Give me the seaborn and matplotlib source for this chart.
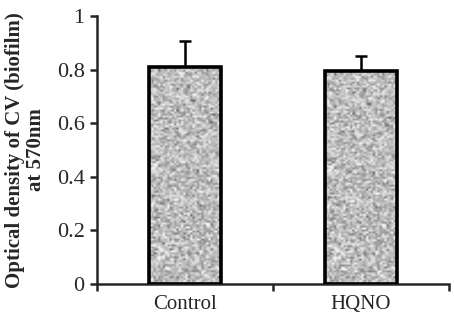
import numpy as np
import pandas as pd
import matplotlib
matplotlib.use("Agg")
import matplotlib.pyplot as plt
import seaborn as sns

categories = ["Control", "HQNO"]
values = [0.81, 0.795]
errors = [0.095, 0.055]

sns.set_style("ticks")
plt.rcParams['font.family'] = ['Liberation Serif', 'DejaVu Serif']

df = pd.DataFrame({"group": categories, "od": values})

fig = plt.figure(figsize=(4.54, 3.19), dpi=100)
ax = fig.add_axes([0.2137, 0.1097, 0.7753, 0.8401])

sns.barplot(data=df, x="group", y="od", ax=ax, color="#b0b0b0",
            width=0.41, edgecolor="black", linewidth=2.6, errorbar=None, zorder=3)

# speckled gray texture clipped to each bar (decorative only)
rng = np.random.default_rng(3)
tex = rng.normal(0.74, 0.12, size=(110, 32))
tex = np.clip(tex, 0.2, 0.97)
for p in ax.patches:
    x0, y0 = p.get_x(), p.get_y()
    w, h = p.get_width(), p.get_height()
    im = ax.imshow(tex, cmap="gray", vmin=0, vmax=1, extent=[x0, x0 + w, y0, y0 + h],
                   aspect="auto", interpolation="bilinear", zorder=3.5)
    im.set_clip_path(p)
    p.set_zorder(4)
    p.set_facecolor("none")

ax.errorbar(x=np.arange(len(categories)), y=values,
            yerr=[np.zeros(len(errors)), errors], fmt="none",
            ecolor="black", elinewidth=1.8, capsize=4, capthick=1.8, zorder=2)

ax.set_xlim(-0.5, 1.5)
ax.set_ylim(0, 1)
ax.set_yticks([0, 0.2, 0.4, 0.6, 0.8, 1.0])
ax.set_yticklabels(["0", "0.2", "0.4", "0.6", "0.8", "1"])
ax.set_xticks([0, 1])
ax.set_xticklabels(categories)
ax.set_xticks([-0.5, 0.5, 1.5], minor=True)
ax.tick_params(axis="x", which="major", length=0, pad=8, labelsize=15)
ax.tick_params(axis="x", which="minor", length=5, width=1.8, direction="out")
ax.tick_params(axis="y", length=5, width=1.8, direction="out", labelsize=16, pad=4)

ax.set_xlabel("")
ax.set_ylabel("Optical density of CV (biofilm)\nat 570nm", fontsize=15, fontweight="bold",
              linespacing=1.05, labelpad=8)

for s in ["top", "right"]:
    ax.spines[s].set_visible(False)
for s in ["left", "bottom"]:
    ax.spines[s].set_linewidth(1.8)
ax.set_xlim(-0.5, 1.5)
ax.set_ylim(0, 1)
fig.savefig("out.png", dpi=100)
